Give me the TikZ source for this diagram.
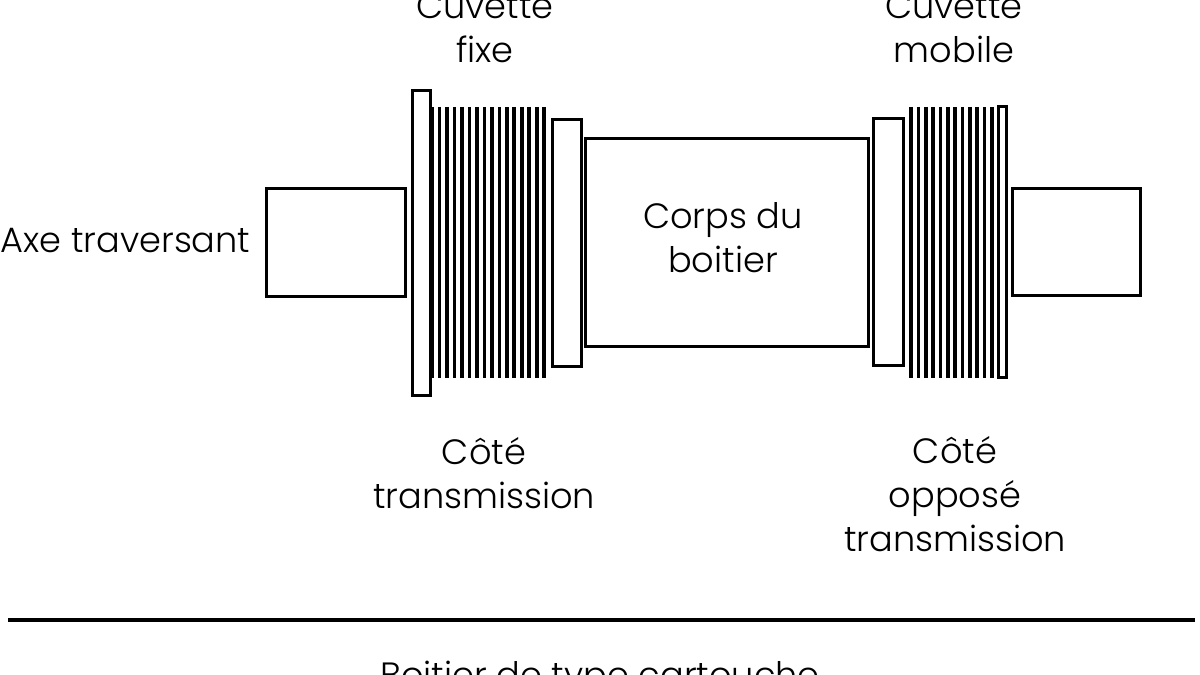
\documentclass[tikz,border=0pt]{standalone}
\usepackage{fontspec}
\setmainfont{Poppins Light}
\tikzset{
	part/.style={line width=0.03cm},
	thread/.style={line width=0.036cm},
	label/.style={align=center, inner sep=0pt, font=\fontsize{10}{12.5}\selectfont}
}
\begin{document}
\begin{tikzpicture}
		\clip (0,0) rectangle (12,6.75);
		\fill[white] (0,0) rectangle (12,6.75);
		% axle ends
		\draw[part] (2.66,4.86) rectangle (4.05,3.78);
		\draw[part] (10.12,4.86) rectangle (11.40,3.79);
		% fixed cup
		\draw[part] (4.12,5.84) rectangle (4.30,2.79);
		\foreach \x in {0,...,15}
			\draw[thread] (4.32+0.0748*\x,5.68) -- (4.32+0.0748*\x,2.97);
		\draw[part] (5.52,5.55) rectangle (5.81,3.08);
		% shell
		\draw[part] (5.85,5.36) rectangle (8.68,3.28);
		% mobile cup
		\draw[part] (8.73,5.56) rectangle (9.03,3.09);
		\foreach \x in {0,...,11}
			\draw[thread] (9.11+0.0735*\x,5.68) -- (9.11+0.0735*\x,2.97);
		\draw[part] (9.98,5.68) rectangle (10.06,2.97);
		% labels
		\node[label] (cupfixed) at (4.85,6.47) {Cuvette\\fixe};
		\node[label] (cupmobile) at (9.54,6.47) {Cuvette\\mobile};
		\node[label, anchor=west] (axle) at (0,4.34) {Axe traversant};
		\node[label] (shell) at (7.23,4.37) {Corps du\\boitier};
		\node[label] (sidedrive) at (4.84,2.02) {Côté\\transmission};
		\node[label] (sideother) at (9.55,1.81) {Côté\\opposé\\transmission};
		% bottom rule and title
		\coordinate (ruleleft) at (0.08,0.55);
		\coordinate (ruleright) at (11.95,0.55);
		\draw[line width=0.045cm] (ruleleft) -- (ruleright);
		\node[label] (title) at (6,-0.04) {Boitier de type cartouche};
	\end{tikzpicture}
\end{document}
